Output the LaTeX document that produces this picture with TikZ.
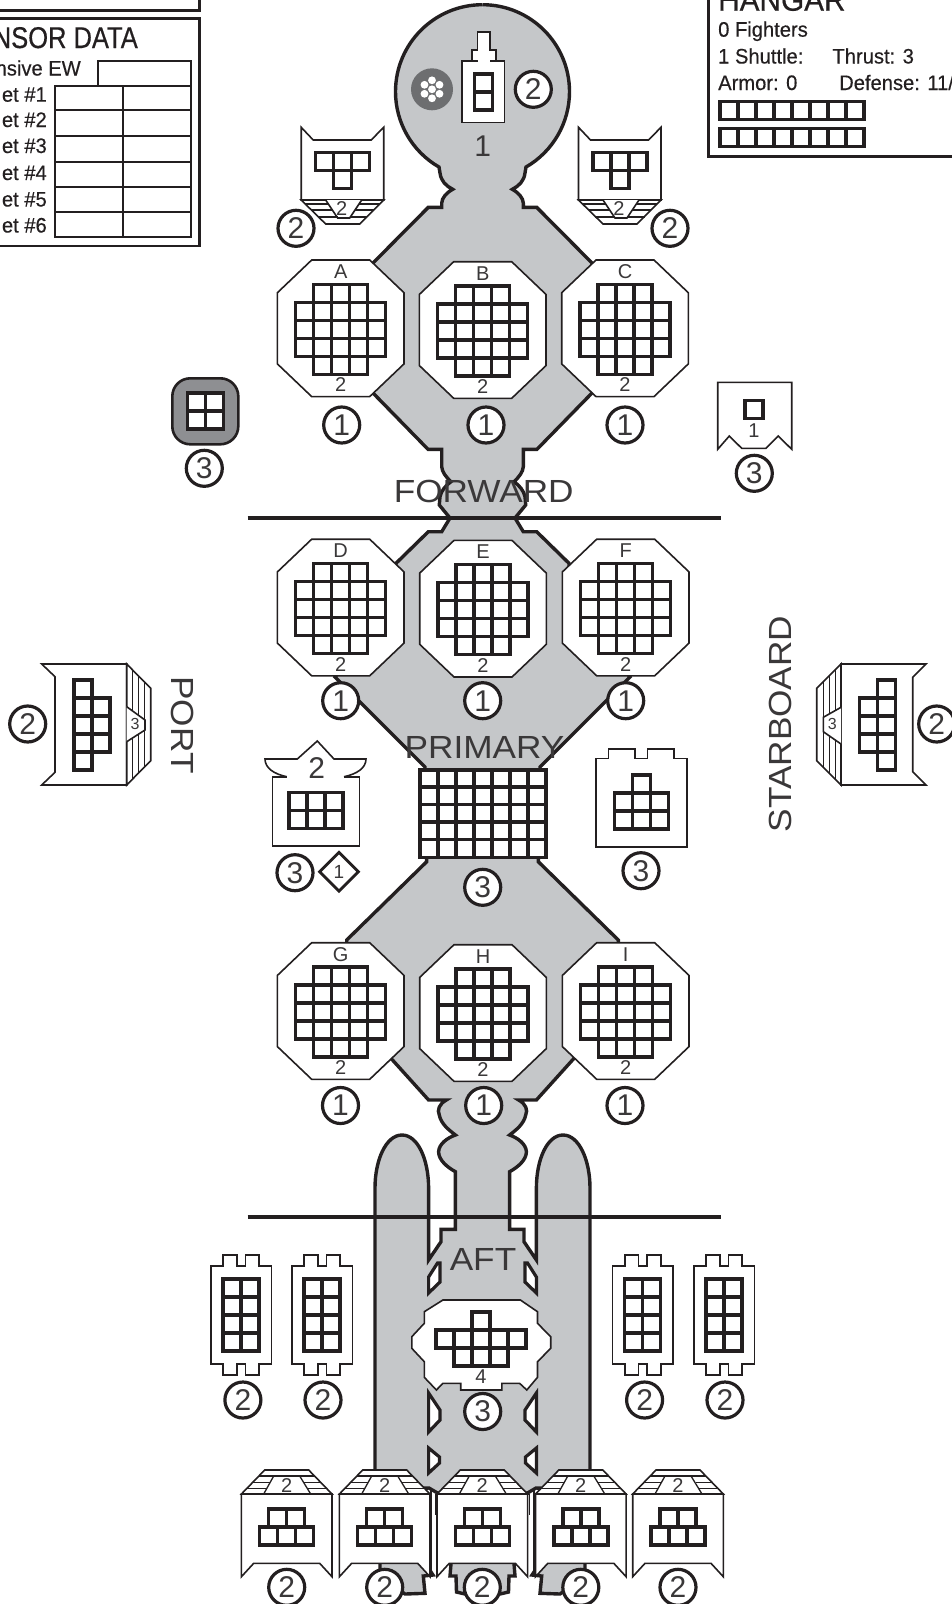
\documentclass[tikz,border=0pt]{standalone}
\usepackage{fontspec}
\usetikzlibrary{shapes.geometric}
\setmainfont{Liberation Sans}
\newfontfamily\headfont[FakeStretch=0.85,FakeBold=0.5]{Liberation Sans}
\newfontfamily\panelfont[FakeStretch=0.96,FakeBold=0.4]{Liberation Sans}
\newfontfamily\sectfont[FakeStretch=1.1]{Liberation Sans}
\definecolor{ink}{HTML}{231F20}
\definecolor{hullgrey}{HTML}{C5C7C9}
\definecolor{softink}{HTML}{3A3839}
\definecolor{discgrey}{HTML}{6D6E70}
\definecolor{shieldgrey}{HTML}{8E8F92}
\tikzset{
  hullline/.style={draw=ink, line width=3.4pt, fill=hullgrey, line join=miter},
  plate/.style={draw=ink, line width=1.6pt, fill=white},
  thin rule/.style={draw=ink, line width=1.3pt},
  cell/.style={draw=ink, line width=3.5pt, fill=white},
  frame/.style={draw=ink, line width=2.8pt},
  tabline/.style={draw=ink, line width=2.2pt},
  window/.style={draw=ink, line width=3.2pt, fill=white},
  ring/.style={circle, draw=ink, line width=3.2pt, fill=white, minimum size=36pt, inner sep=0pt,
    text=softink, font=\fontsize{30}{30}\selectfont},
  tag/.style={inner sep=0pt, text=softink, font=\fontsize{20}{20}\selectfont},
  bigtag/.style={inner sep=0pt, text=softink, font=\fontsize{30}{30}\selectfont},
  sect/.style={inner sep=0pt, text=softink, font=\sectfont\fontsize{32}{32}\selectfont},
  panel/.style={inner sep=0pt, text=ink, font=\panelfont\fontsize{21}{21}\selectfont},
}
\newcommand{\cellrow}[3]{\foreach \i in {1,...,#3} \draw[cell] ({#1+(\i-1)*18},#2) rectangle +(18,18);}
\begin{document}
\begin{tikzpicture}[x=1pt, y=-1pt]
  \clip (0,0) rectangle (952,1604);
  % Hull, one side and its mirror
  \foreach \mx/\sx in {0/1, 965/-1} {
    \begin{scope}[shift={(\mx,0)}, xscale=\sx]
      \path[hullline] (482.5,4.7) arc[start angle=270, end angle=120, radius=87]
        -- (440,173) .. controls (441,181) and (446,186) .. (452.7,189.3)
        .. controls (446,193) and (442,198) .. (441.7,203)
        -- (441.7,207.3) -- (428.3,207.3) -- (373,263) -- (373,393) -- (428,449.3) -- (441.7,449.3) -- (441.7,466.7)
        .. controls (442,472) and (446,477) .. (451,481.7)
        .. controls (446,485) and (441,491) .. (440,496.7)
        -- (439.3,505) -- (450,518) -- (441.7,531.7) -- (428.3,531.7) -- (396,563.3) -- (396,600) -- (335,677) -- (425,767)
        -- (426.7,861.7) -- (346.7,940) -- (346.7,1010) -- (388,1055) -- (428.6,1100) -- (446.4,1100)
        .. controls (439,1104) and (437,1110) .. (439.3,1115)
        .. controls (441,1124) and (449,1130) .. (455.4,1135)
        .. controls (447,1138) and (439,1144) .. (438.6,1151.7)
        .. controls (438.6,1160) and (447,1167) .. (455.4,1171.7)
        -- (455.4,1229.3) -- (441,1229.3) -- (441,1241.7) -- (428.6,1260)
        -- (428.6,1188) .. controls (428.6,1160) and (418,1135) .. (402,1135)
        .. controls (386,1135) and (375,1160) .. (375,1188)
        -- (375,1490) -- (429,1488) -- (437.5,1493) -- (482.5,1493);
      % Windows along the aft hull
      \draw[window] (428.6,1277) -- (437.5,1263) -- (440,1263) -- (440,1282) -- (428.6,1293) -- cycle;
      \draw[window] (428.6,1393) -- (440,1410) -- (440,1420) -- (428.6,1432) -- cycle;
      \draw[window] (428.6,1448) -- (439.5,1457) -- (439.5,1463) -- (428.6,1473) -- cycle;
      % Stubs under the tail mounts
      \path[hullline] (380,1555) -- (380,1575) -- (405,1594) -- (425,1593.3) -- (423.3,1576) -- (433,1575) -- (420,1555);
      \path[hullline] (451.7,1555) -- (450,1576) -- (456,1576) -- (456.5,1592) -- (465,1594) -- (482.5,1594) -- (482.5,1555);
    \end{scope}
  }
  \fill[hullgrey] (480,8) rectangle (485,1490);
  \fill[hullgrey] (480,1555) rectangle (485,1591);
  % Section lines
  \draw[line width=3.2pt, draw=ink] (247.5,518) -- (721,518);
  \draw[line width=3.2pt, draw=ink] (247.5,1217) -- (721,1217);
  % Panels on the top corners
  \draw[frame] (-5,10.7) -- (199.3,10.7) -- (199.3,-5);
  \draw[frame] (-5,18.3) rectangle (199.3,246);
  \node[anchor=base east, inner sep=0pt, text=ink, font=\headfont\fontsize{30}{30}\selectfont] (sensorhead) at (138,48) {NSOR DATA};
  \node[panel, anchor=base east] (ewlabel) at (81,75.5) {nsive EW};
  \foreach \n/\by in {1/101.7, 2/127, 3/153, 4/180, 5/206.5, 6/232.5}
    \node[panel, anchor=base east] (target\n) at (47,\by) {et \#\n};
  \draw[tabline] (98,85.7) -- (98,60.7) -- (191,60.7) -- (191,85.7);
  \draw[tabline] (55,85.7) rectangle (191,237.3);
  \draw[tabline] (123,85.7) -- (123,237.3);
  \foreach \ry in {110.3, 136, 161.7, 187, 212}
    \draw[tabline] (55,\ry) -- (191,\ry);
  \draw[frame] (708.3,-5) -- (708.3,156.7) -- (957,156.7);
  \node[anchor=base west, inner sep=0pt, text=ink, font=\panelfont\fontsize{31}{31}\selectfont] (hangarhead) at (718,10.7) {HANGAR};
  \node[panel, anchor=base west] (fighters) at (718,36.7) {0 Fighters};
  \node[panel, anchor=base west] (shuttle) at (718,63.5) {1 Shuttle:};
  \node[panel, anchor=base west] (thrust) at (832.3,63.5) {Thrust: 3};
  \node[panel, anchor=base west] (armor) at (718,90) {Armor: 0};
  \node[panel, anchor=base west] (defense) at (839,90) {Defense: 11/};
  \cellrow{719.8}{101.5}{8}
  \cellrow{719.8}{128.5}{8}
  % Nose
  \draw[plate] (461.7,61) rectangle (504.3,122.3);
  \draw[plate] (471.7,61) -- (471.7,50) -- (477.3,50) -- (477.3,31.7) -- (490,31.7) -- (490,50) -- (496,50) -- (496,61) -- cycle;
  \draw[draw=white, line width=2pt] (477.5,61) -- (490,61);
  \draw[draw=ink, line width=2.6pt] (471.7,61) -- (477,61) (490,61) -- (496,61);
  \cellrow{474.3}{74}{1}
  \cellrow{474.3}{92}{1}
  \fill[discgrey] (432,89.3) circle (21);
  \foreach \ox/\oy in {0/0, 0/-9, 7.5/-4.5, 7.5/4.5, 0/9, -7.5/4.5, -7.5/-4.5}
    \fill[white] ({432+\ox},{89.3+\oy}) circle (3.9);
  \node[ring] (ringnose) at (533.3,89.3) {2};
  \node[bigtag] (nosearmor) at (482.7,146) {1};
  % Forward side mounts
  \foreach \cx/\rx/\nm in {342.7/296/left, 620/670/right} {
    \begin{scope}[shift={(\cx,0)}]
      \draw[plate] (-41.5,127.3) -- (-29.5,140) -- (28.5,140) -- (41,127.3) -- (41,200) -- (-41.5,200) -- cycle;
      \draw[plate] (-41.5,200) -- (-17,224) -- (17,224) -- (41,200) -- cycle;
      \draw[plate] (-17,200) -- (-5,218) -- (7,218) -- (19,200);
      \draw[thin rule] (-37.5,204) -- (-14.5,204) (16.5,204) -- (37,204);
      \draw[thin rule] (-31.5,210) -- (-10.5,210) (12.5,210) -- (31,210);
      \draw[thin rule] (-25,217) -- (-5,217) (7,217) -- (24.5,217);
      \node[tag] (swing\nm) at (-1,208.3) {2};
      \cellrow{-27}{152.5}{3}
      \cellrow{-9}{170.5}{1}
    \end{scope}
    \node[ring] (ring\nm) at (\rx,228.3) {2};
  }
  % Octagon bays
  \foreach \cx/\cy/\rx/\ry/\nm in {340.7/328.3/341.7/425/A, 482.7/330/486/425/B, 625/328.3/625/425/C,
      340.7/607.5/340.7/700.7/D, 483/608.7/482.7/700.7/E, 625.7/607.5/625.7/700.7/F,
      340.7/1011/340.5/1105.5/G, 483/1013/483.7/1105.5/H, 625.7/1011/625/1105.5/I} {
    \begin{scope}[shift={(\cx,\cy)}]
      \draw[plate] (-29,-68.3) -- (29,-68.3) -- (63.3,-35.6) -- (63.3,35.6) -- (29,68.3) -- (-29,68.3) -- (-63.3,35.6) -- (-63.3,-35.6) -- cycle;
      \cellrow{-27}{-44}{3}
      \cellrow{-45}{-26}{5}
      \cellrow{-45}{-8}{5}
      \cellrow{-45}{10}{5}
      \cellrow{-27}{28}{3}
      \node[tag] (letter\nm) at (0,-56.6) {\nm};
      \node[tag] (armor\nm) at (0,56.7) {2};
    \end{scope}
    \node[ring] (ring\nm) at (\rx,\ry) {1};
  }
  % Shield generator and sensor mount
  \draw[draw=ink, line width=2.6pt, fill=shieldgrey, rounded corners=18pt] (172.3,378.3) rectangle (238.3,444.3);
  \cellrow{187.5}{393}{2}
  \cellrow{187.5}{411}{2}
  \node[ring] (ringshield) at (204.3,468.3) {3};
  \draw[plate] (717.7,382.3) -- (791.7,382.3) -- (791.7,449.3) -- (778.3,436) -- (766,448.3) -- (741.7,448.3) -- (729.3,436) -- (717.7,449.3) -- cycle;
  \cellrow{744.8}{400.5}{1}
  \node[tag] (sensorarmor) at (754,431) {1};
  \node[ring] (ringsensor) at (754.3,473.3) {3};
  % Port and starboard mounts
  \draw[plate] (41.7,664) -- (126.7,664) -- (126.7,785) -- (41.7,785) -- (55,772.3) -- (55,676.7) -- cycle;
  \draw[plate] (126.7,664) -- (150.7,688.3) -- (150.7,760.7) -- (126.7,785) -- cycle;
  \draw[plate] (126.7,706.7) -- (145,720) -- (145,730) -- (126.7,741.7);
  \draw[thin rule] (132.7,670) -- (132.7,711) (138.7,676) -- (138.7,715.5) (144.7,682) -- (144.7,720);
  \draw[thin rule] (132.7,737.5) -- (132.7,779) (138.7,733.5) -- (138.7,773) (144.7,730) -- (144.7,767);
  \node[inner sep=0pt, text=softink, font=\fontsize{16}{16}\selectfont] (portarmor) at (135,724) {3};
  \foreach \ry in {679.8, 697.8, 715.8, 733.8, 751.8} {\cellrow{73.8}{\ry}{1}}
  \foreach \ry in {697.8, 715.8, 733.8} {\cellrow{91.8}{\ry}{1}}
  \node[ring] (ringport) at (27.7,724) {2};
  \node[sect, rotate=-90] (porttext) at (183,725) {PORT};
  \draw[plate] (841,664) -- (926,664) -- (912.7,677.3) -- (912.7,771.7) -- (926,785) -- (841,785) -- cycle;
  \draw[plate] (841,664) -- (816.7,688.3) -- (816.7,760.7) -- (841,785) -- cycle;
  \draw[plate] (841,707.3) -- (823.3,717.3) -- (823.3,731.7) -- (841,744);
  \draw[thin rule] (823.3,681.5) -- (823.3,717) (829.3,675.5) -- (829.3,714) (835.7,669) -- (835.7,710.5);
  \draw[thin rule] (823.3,732) -- (823.3,767) (829.3,736) -- (829.3,773) (835.7,740) -- (835.7,779.5);
  \node[inner sep=0pt, text=softink, font=\fontsize{16}{16}\selectfont] (starboardarmor) at (832.3,724) {3};
  \foreach \ry in {679.8, 697.8, 715.8, 733.8, 751.8} {\cellrow{877.5}{\ry}{1}}
  \foreach \ry in {697.8, 715.8, 733.8} {\cellrow{859.5}{\ry}{1}}
  \node[ring] (ringstarboard) at (936.7,724) {2};
  \node[sect, rotate=90] (starboardtext) at (780.5,724) {STARBOARD};
  % Primary block and its two neighbours
  \foreach \ry in {769.8, 787.2, 804.6, 822, 839.4} {\cellrow{419.8}{\ry}{7}}
  \node[ring] (ringprimary) at (482.7,887.3) {3};
  \draw[plate] (286.7,776.7) -- (272.3,776.7) -- (272.3,846) -- (359.3,846) -- (359.3,776.7) -- (344,776.7);
  \draw[plate, fill=none] (286.7,776.7) .. controls (274,774) and (265,768) .. (265,759) -- (297.3,759) -- (317.3,741) -- (334,759) -- (366,759) .. controls (366,768) and (357,774) .. (344,776.7);
  \node[bigtag] (wingarmor) at (316.7,767.7) {2};
  \cellrow{289.2}{792.5}{3}
  \cellrow{289.2}{810.5}{3}
  \node[ring] (ringwing) at (295,872.7) {3};
  \node[diamond, draw=ink, line width=2.8pt, fill=white, minimum size=40pt, inner sep=0pt, text=softink, font=\fontsize{19}{19}\selectfont] (facing) at (339,871.7) {1};
  \draw[plate] (595.7,758.3) -- (608.3,758.3) -- (608.3,749) -- (635,749) -- (635,758.3) -- (647.3,758.3) -- (647.3,749) -- (674,749) -- (674,758.3) -- (686.7,758.3) -- (686.7,846.7) -- (595.7,846.7) -- cycle;
  \cellrow{632.3}{775}{1}
  \cellrow{614.3}{793}{3}
  \cellrow{614.3}{811}{3}
  \node[ring] (ringblock) at (641,870.7) {3};
  % Aft side mounts
  \foreach \cx/\rx/\nm in {241/242.9/a, 322/323/b, 642.7/644.6/c, 724/725/d} {
    \begin{scope}[shift={(\cx,0)}]
      \draw[plate] (-30.3,1265.7) -- (-18,1265.7) -- (-18,1255) -- (-4.3,1255) -- (-4.3,1265.7) -- (4.3,1265.7) -- (4.3,1255) -- (18,1255) -- (18,1265.7) -- (30.3,1265.7)
        -- (30.3,1364) -- (18,1364) -- (18,1375) -- (4.3,1375) -- (4.3,1364) -- (-4.3,1364) -- (-4.3,1375) -- (-18,1375) -- (-18,1364) -- (-30.3,1364) -- cycle;
      \foreach \ry in {1279, 1297, 1315, 1333} {\cellrow{-18}{\ry}{2}}
    \end{scope}
    \node[ring] (ringaft\nm) at (\rx,1400) {2};
  }
  % Engine block
  \draw[plate] (442.9,1300) -- (520.4,1300) -- (537.5,1311.7) -- (537.5,1323.3) -- (550.7,1336.7) -- (550.7,1348.3) -- (537.5,1361.7) -- (537.5,1377.3) -- (526.8,1390) -- (519.6,1383.3)
    -- (501.8,1383.3) -- (501.8,1390) -- (460.7,1390) -- (460.7,1383.3) -- (442.9,1383.3) -- (436.4,1390) -- (424.3,1377.3) -- (424.3,1361.7) -- (411.8,1348.3) -- (411.8,1336.7) -- (424.3,1323.3) -- (424.3,1311.7) -- cycle;
  \cellrow{472}{1312}{1}
  \cellrow{436}{1330}{5}
  \cellrow{454}{1348}{3}
  \node[tag] (enginearmor) at (481,1376.7) {4};
  \node[ring] (ringengine) at (482.7,1411.5) {3};
  % Tail mounts
  \foreach \cx/\nm in {286.7/a, 384.7/b, 482.3/c, 580.8/d, 678/e} {
    \begin{scope}[shift={(\cx,0)}]
      \draw[plate] (-45.3,1494) -- (45.3,1494) -- (45.3,1576.7) -- (33,1563.3) -- (-33,1563.3) -- (-45.3,1576.7) -- cycle;
      \draw[plate] (-45.3,1494) -- (-22,1470) -- (22,1470) -- (45.3,1494) -- cycle;
      \draw[thin rule] (-27.8,1476) -- (27.8,1476);
      \draw[thin rule] (-23,1494) -- (-13,1476) (24,1494) -- (13,1476);
      \draw[thin rule] (-34.3,1482.7) -- (-17,1482.7) (17.5,1482.7) -- (34.3,1482.7);
      \draw[thin rule] (-39.8,1488.3) -- (-20,1488.3) (20.5,1488.3) -- (39.8,1488.3);
      \node[tag] (tailarmor\nm) at (0,1485) {2};
      \cellrow{-18}{1509}{2}
      \cellrow{-27}{1527}{3}
    \end{scope}
    \node[ring] (ringtail\nm) at (\cx,1587.3) {2};
  }
  % Hull edges seen between the tail mounts
  \draw[draw=ink, line width=2.4pt] (431,1490) -- (431,1575) (534,1490) -- (534,1575);
  \draw[thin rule] (435.7,1494) -- (435.7,1515) (529.3,1494) -- (529.3,1515);
  % Section names
  \node[sect] (forwardtext) at (483.7,491) {FORWARD};
  \node[sect] (primarytext) at (484.5,747) {PRIMARY};
  \node[sect] (afttext) at (483,1259) {AFT};
\end{tikzpicture}
\end{document}
